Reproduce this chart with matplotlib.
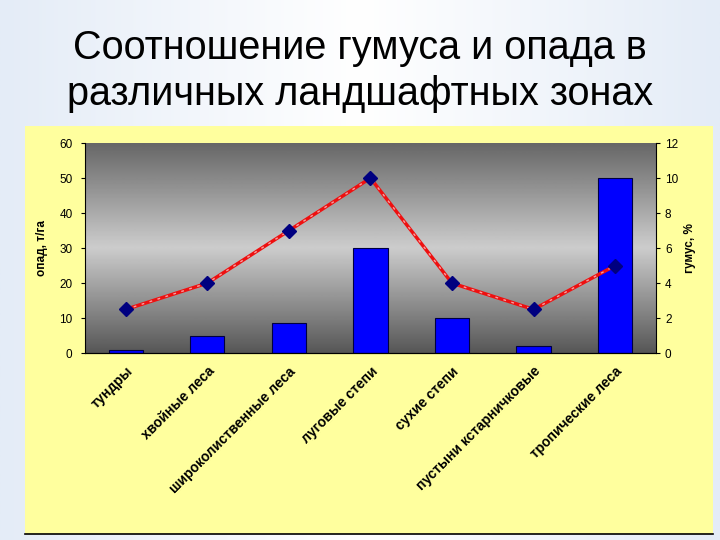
import numpy as np
import matplotlib.pyplot as plt
from matplotlib.patches import Rectangle
from matplotlib.colors import LinearSegmentedColormap

# Data
zones = ["тундры", "хвойные леса", "широколиственные леса", "луговые степи",
         "сухие степи", "пустыни кстарничковые", "тропические леса"]
litter = [1, 5, 8.5, 30, 10, 2, 50]          # опад, т/га (left axis, bars)
humus = [2.5, 4, 7, 10, 4, 2.5, 5]           # гумус, % (right axis, line)

plt.rcParams['font.family'] = ['Liberation Sans', 'DejaVu Sans']

fig = plt.figure(figsize=(7.2, 5.4), dpi=100)

# light blue slide background
bg = fig.add_axes([0, 0, 1, 1], zorder=-10)
grad = np.linspace(0, 1, 256).reshape(1, -1)
bg.imshow(grad, aspect='auto', extent=[0, 1, 0, 1],
          cmap=LinearSegmentedColormap.from_list('bgc', ['#e4ecf7', '#ffffff', '#e4ecf7']))
bg.add_patch(Rectangle((0.035, 0.012), 0.955, 0.755, facecolor='#ffff9e',
                       edgecolor='none', transform=bg.transAxes))
bg.plot([0.035, 0.99], [0.012, 0.012], color='black', lw=1.2)
bg.set_xlim(0, 1)
bg.set_ylim(0, 1)
bg.axis('off')

fig.text(0.5, 0.912, "Соотношение гумуса и опада в", ha='center', va='center', fontsize=28.5)
fig.text(0.5, 0.826, "различных ландшафтных зонах", ha='center', va='center', fontsize=28.5)

ax = fig.add_axes([0.118, 0.346, 0.793, 0.389])
x = np.arange(len(zones))

# gray gradient plot area
vg = np.concatenate([np.linspace(0.34, 0.80, 128), np.linspace(0.80, 0.40, 128)]).reshape(-1, 1)
ax.imshow(vg, aspect='auto', cmap='gray', vmin=0, vmax=1,
          extent=[-0.5, 6.5, 60, 0], zorder=0)

ax.bar(x, litter, width=0.42, color='#0000ff', edgecolor='#000040', linewidth=0.8, zorder=2)
ax.set_xlim(-0.5, 6.5)
ax.set_ylim(0, 60)
ax.set_yticks(range(0, 61, 10))
ax.set_ylabel("опад, т/га", fontsize=8.5, fontweight='bold', labelpad=8)
ax.set_xticks(x)
ax.set_xticklabels(zones, rotation=45, ha='right', rotation_mode='anchor',
                   fontsize=10, fontweight='bold')
ax.tick_params(axis='x', length=0, pad=8)
ax.tick_params(axis='y', labelsize=8.5, length=3, pad=6)
for s in ['top', 'right']:
    ax.spines[s].set_visible(False)

ax2 = ax.twinx()
ax2.plot(x, humus, color='#ee1010', lw=2.5, zorder=3)
ax2.plot(x, humus, color='white', lw=1, ls=(0, (2, 4)), alpha=0.6, zorder=3)
ax2.plot(x, humus, ls='none', marker='D', markersize=7, color='#000080', zorder=4)
ax2.set_ylim(0, 12)
ax2.set_yticks(range(0, 13, 2))
ax2.set_ylabel("гумус, %", fontsize=8.5, fontweight='bold')
ax2.tick_params(axis='y', labelsize=8.5, length=3)
for s in ['top', 'left']:
    ax2.spines[s].set_visible(False)

fig.savefig("out.png", dpi=100)
